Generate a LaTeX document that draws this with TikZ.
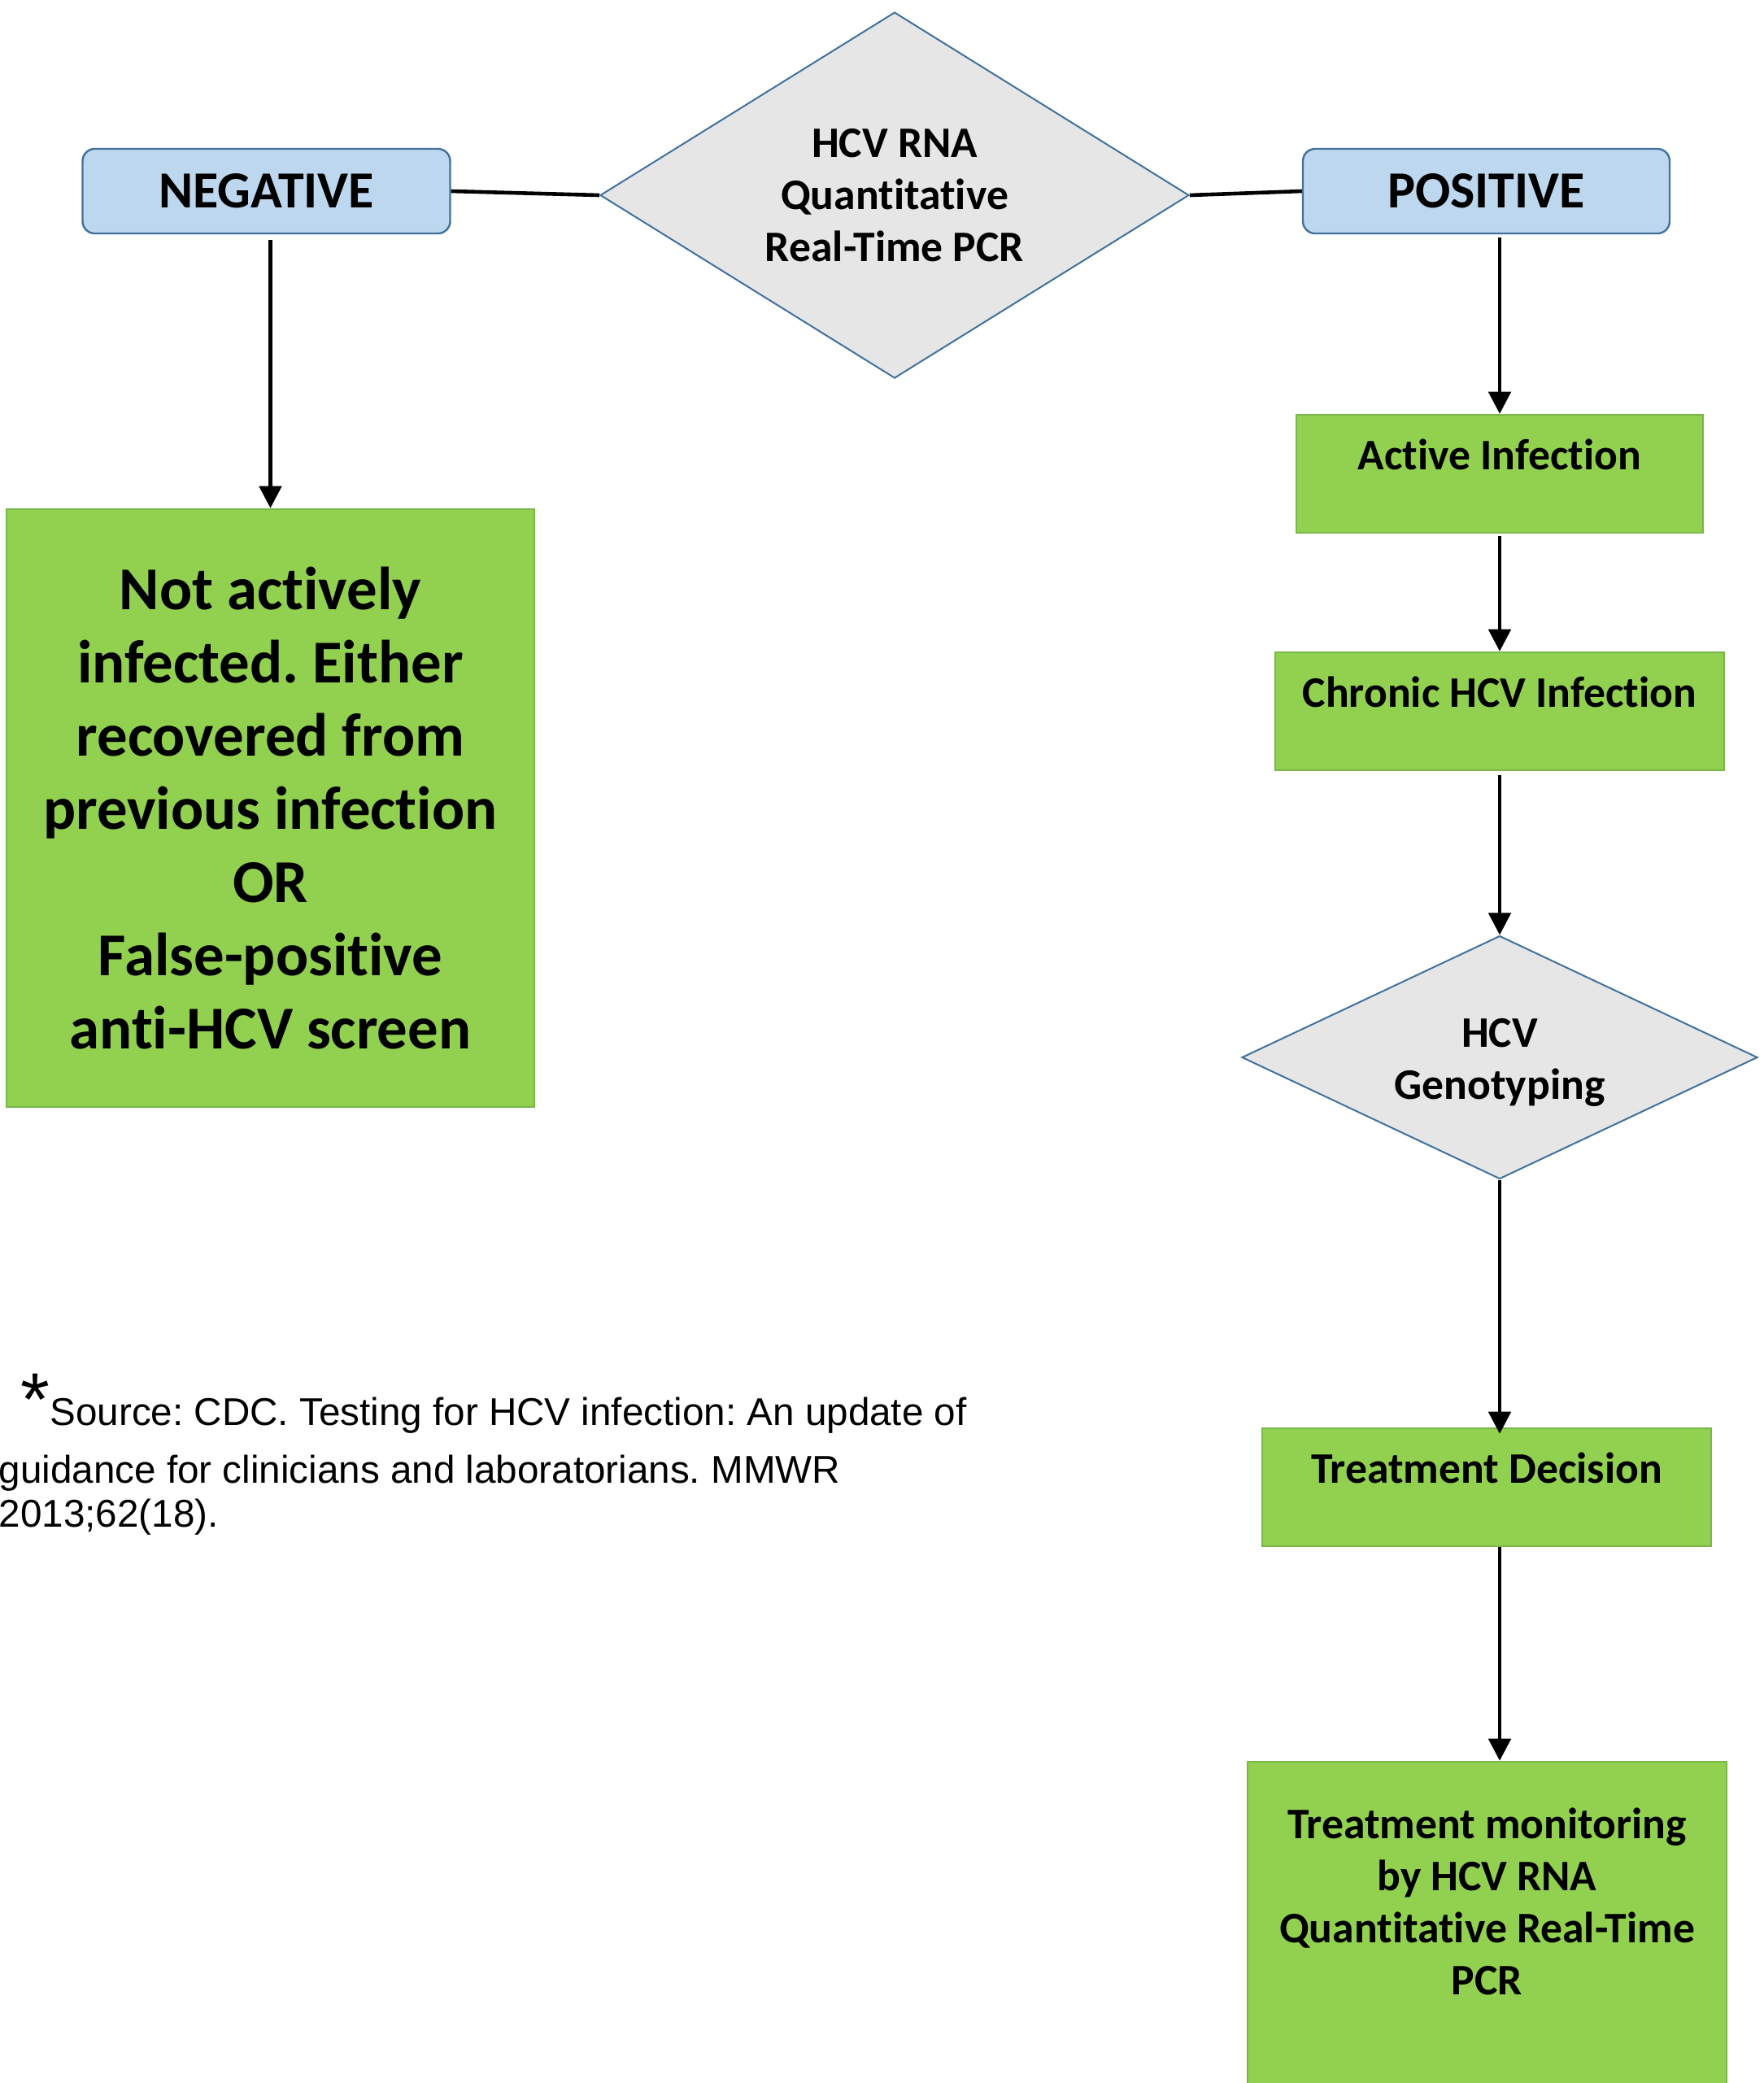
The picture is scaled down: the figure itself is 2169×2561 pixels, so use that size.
\documentclass[tikz,border=0pt]{standalone}
\usepackage{fontspec}
\setmainfont{Carlito}[Ligatures=NoCommon]
\newfontfamily\arialf{Liberation Sans}
\usetikzlibrary{shapes.geometric,arrows.meta,calc}
\definecolor{blueF}{HTML}{BDD7EE}
\definecolor{blueD}{HTML}{41719C}
\definecolor{greyF}{HTML}{E6E6E6}
\definecolor{greenF}{HTML}{92D050}
\definecolor{greenD}{HTML}{7AB648}
\begin{document}
\frenchspacing
\begin{tikzpicture}[x=0.25pt,y=-0.25pt,
  bluebox/.style={draw=blueD, fill=blueF, line width=0.6pt, rounded corners=3.75pt,
    minimum width=113pt, minimum height=26pt, inner sep=0pt,
    font=\fontsize{16}{19}\selectfont\bfseries},
  decision/.style={diamond, draw=blueD, fill=greyF, line width=0.5pt, inner sep=0pt,
    align=center, font=\fontsize{13.4}{16}\selectfont\bfseries},
  gbox/.style={draw=greenD, fill=greenF, line width=0.6pt, inner sep=0pt},
  btext/.style={font=\fontsize{13.4}{16}\selectfont\bfseries, align=center, inner sep=0pt},
  foot/.style={anchor=base west, inner sep=0pt, font=\arialf\fontsize{11.9}{14}\selectfont},
  conn/.style={line width=1.15pt},
  arr/.style={conn, -{Triangle[width=6.8pt,length=6.8pt]}}
]
\clip (0,0) rectangle (2169,2561);
\fill[white] (0,0) rectangle (2169,2561);

% top row
\node[decision, shape aspect=1.61, minimum width=181pt, minimum height=112.5pt] (hcvrna) at (1100,240)
  {HCV RNA\\Quantitative\\Real-Time PCR};
\node[bluebox] (neg) at (327.5,235) {NEGATIVE};
\node[bluebox, minimum width=112.75pt] (pos) at (1827.5,235) {POSITIVE};

% left branch
\node[gbox, minimum width=162.25pt, minimum height=183.75pt, align=center,
  font=\fontsize{18.7}{22.5}\selectfont\bfseries] (notinf) at (332.5,993.5)
  {Not actively\\infected. Either\\recovered from\\previous infection\\OR\\False-positive\\anti-HCV screen};

% right branch
\node[gbox, minimum width=125pt, minimum height=36.25pt] (active) at (1844,582.5) {};
\node[btext] (activeT) at (1844,559) {Active Infection};
\node[gbox, minimum width=138pt, minimum height=36.25pt] (chronic) at (1844,874.5) {};
\node[btext] (chronicT) at (1844,851) {Chronic HCV Infection};
\node[decision, shape aspect=2.12, minimum width=158.5pt, minimum height=74.75pt] (geno) at (1844,1300)
  {\rule{0pt}{12pt}HCV\\Genotyping};
\node[gbox, minimum width=138pt, minimum height=36.25pt] (decis) at (1828,1828.5) {};
\node[btext] (decisT) at (1828,1805) {Treatment Decision};
\node[gbox, minimum width=147.25pt, minimum height=108.5pt] (monit) at (1828.5,2383) {};
\node[btext] (monitT) at (1828.5,2338)
  {Treatment monitoring\\by HCV RNA\\Quantitative Real-Time\\PCR};

% connectors
\draw[conn] (neg.east) -- (hcvrna.west);
\draw[conn] (hcvrna.east) -- (pos.west);
\draw[arr, shorten <=1.75pt] (neg.south -| notinf.north) -- (notinf.north);
\draw[arr, shorten <=1pt] (pos.south -| active.north) -- (active.north);
\draw[arr, shorten <=0.75pt] (active.south) -- (chronic.north);
\draw[arr, shorten <=1.25pt] (chronic.south) -- (geno.north);
\draw[arr, shorten >=-2pt] (geno.south) -- (geno.south |- decis.north);
\draw[arr] (geno.south |- decis.south) -- (geno.south |- monit.north);

% footnote
\node[foot] (foot1) at (25,1752) {{\fontsize{23}{23}\selectfont *}Source: CDC. Testing for HCV infection: An update of};
\node[foot] (foot2) at (-2,1823) {guidance for clinicians and laboratorians. MMWR};
\node[foot] (foot3) at (-2,1877) {2013;62(18).};
\end{tikzpicture}
\end{document}
